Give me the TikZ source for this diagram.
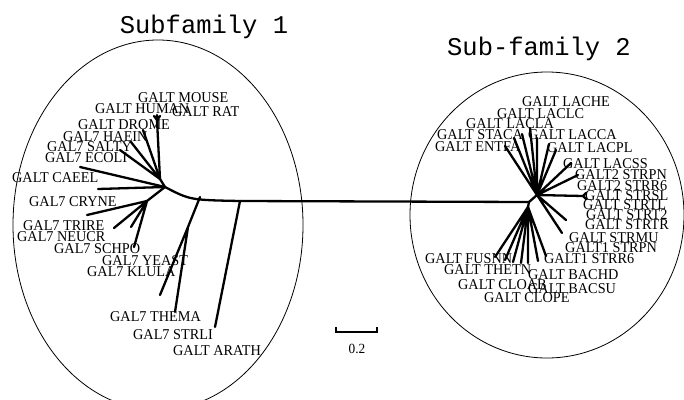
\documentclass[tikz,border=0pt]{standalone}
\usepackage{fontspec}
\setmainfont{Liberation Serif}
\setmonofont{Liberation Mono}
\newfontfamily\taxfont[FakeStretch=0.95]{Liberation Serif}
\tikzset{
  branch/.style={line width=2.3pt, line cap=round, line join=round},
  taxon/.style={anchor=west, inner sep=0pt, font=\taxfont\fontsize{15}{15}\selectfont},
  famring/.style={line width=0.8pt},
  famtitle/.style={anchor=base, inner sep=0pt, font=\ttfamily\fontsize{25.5}{26}\selectfont},
}
\begin{document}
\begin{tikzpicture}[x=1pt,y=-1pt]
    \useasboundingbox (0,0) rectangle (684,399);
    %% rings and titles
    \draw[famring] (158,225) ellipse (145pt and 185pt);
    \draw[famring] (547,215) ellipse (137pt and 143pt);
    \node[famtitle] (fam1) at (204,33) {Subfamily 1};
    \node[famtitle] (fam2) at (539,55) {Sub-family 2};
    %% junctions
    \coordinate (lj) at (165,187);
    \coordinate (lbend) at (200,197);
    \coordinate (lbase) at (240,201);
    \coordinate (rj) at (529,202);
    \coordinate (ltop) at (160,179);
    \coordinate (lfan) at (147,201);
    \coordinate (lsplit) at (188,227);
    \coordinate (lmam) at (157,120);
    \coordinate (ru) at (537,195);
    \coordinate (rl) at (528,207);
    \coordinate (rsl) at (583,196);
    %% long branch between the two subfamilies
    \draw[branch] (lj) .. controls (190,200) .. (lbase) -- (rj);
    %% subfamily 1, upper part
    \draw[branch] (lj) -- (ltop) -- (lmam);
    \draw[branch] (lmam) -- (154,116) (lmam) -- (157,115) (lmam) -- (160,116);
    \draw[branch] (ltop) -- (143,130) (ltop) -- (131,142) (ltop) -- (120,150);
    \draw[branch] (lj) -- (80,167) (lj) -- (98,189);
    %% subfamily 1, lower part
    \draw[branch] (lj) -- (lfan);
    \draw[branch] (lfan) -- (87,215) (lfan) -- (114,228) (lfan) -- (131,227) (lfan) -- (134,247);
    \draw[branch] (lbend) -- (lsplit) -- (160,295) (lsplit) -- (175,312);
    \draw[branch] (lbase) -- (215,327);
    %% subfamily 2, upper part
    \draw[branch] (rj) -- (ru);
    \draw[branch] (ru) -- (505,146) (ru) -- (514,138) (ru) -- (522,134) (ru) -- (530,128);
    \draw[branch] (ru) -- (537,138) (ru) -- (549,144) (ru) -- (556,150);
    \draw[branch] (ru) -- (571,163) (ru) -- (578,175) (ru) -- (rsl);
    \draw[branch] (rsl) -- (586,193) (rsl) -- (586,199);
    \draw[branch] (ru) -- (566,220) (ru) -- (562,233);
    %% subfamily 2, lower part
    \draw[branch] (rj) -- (rl);
    \draw[branch] (rl) -- (495,257) (rl) -- (505,260) (rl) -- (513,262) (rl) -- (521,263);
    \draw[branch] (rl) -- (528,263) (rl) -- (538,261) (rl) -- (546,256);
    %% scale bar
    \coordinate (sbl) at (336,332);
    \coordinate (sbr) at (377,332);
    \draw[line width=1.5pt] (336,327) -- (sbl) -- (sbr) -- (377,327);
    \node[inner sep=0pt, font=\taxfont\fontsize{14}{14}\selectfont] (sblab) at (357,349) {0.2};
    %% labels, subfamily 1
    \node[taxon] (mouse) at (138,98) {GALT MOUSE};
    \node[taxon] (human) at (95,109) {GALT HUMAN};
    \node[taxon] (rat) at (172,112) {GALT RAT};
    \node[taxon] (drome) at (78,125) {GALT DROME};
    \node[taxon] (haein) at (63,137) {GAL7 HAEIN};
    \node[taxon] (salty) at (47,147) {GAL7 SALTY};
    \node[taxon] (ecoli) at (45,158) {GAL7 ECOLI};
    \node[taxon] (caeel) at (12,178) {GALT CAEEL};
    \node[taxon] (cryne) at (29,202) {GAL7 CRYNE};
    \node[taxon] (trire) at (23,226) {GAL7 TRIRE};
    \node[taxon] (neucr) at (17,237) {GAL7 NEUCR};
    \node[taxon] (schpo) at (54,249) {GAL7 SCHPO};
    \node[taxon] (yeast) at (102,261) {GAL7 YEAST};
    \node[taxon] (klula) at (87,272) {GAL7 KLULA};
    \node[taxon] (thema) at (110,317) {GAL7 THEMA};
    \node[taxon] (strli) at (133,335) {GAL7 STRLI};
    \node[taxon] (arath) at (173,351) {GALT ARATH};
    %% labels, subfamily 2
    \node[taxon] (lache) at (522,102) {GALT LACHE};
    \node[taxon] (laclc) at (497,114) {GALT LACLC};
    \node[taxon] (lacla) at (466,124) {GALT LACLA};
    \node[taxon] (staca) at (437,135) {GALT STACA};
    \node[taxon] (lacca) at (528,135) {GALT LACCA};
    \node[taxon] (entfa) at (435,147) {GALT ENTFA};
    \node[taxon] (lacpl) at (547,148) {GALT LACPL};
    \node[taxon] (lacss) at (563,164) {GALT LACSS};
    \node[taxon] (strpnb) at (575,175) {GALT2 STRPN};
    \node[taxon] (strrb) at (577,186) {GALT2 STRR6};
    \node[taxon] (strsl) at (585,196) {GALT STRSL};
    \node[taxon] (strtl) at (583,205) {GALT STRTL};
    \node[taxon] (strtb) at (586,215) {GALT STRT2};
    \node[taxon] (strtr) at (585,225) {GALT STRTR};
    \node[taxon] (strmu) at (569,238) {GALT STRMU};
    \node[taxon] (strpna) at (565,248) {GALT1 STRPN};
    \node[taxon] (strra) at (544,259) {GALT1 STRR6};
    \node[taxon] (fusnn) at (425,259) {GALT FUSNN};
    \node[taxon] (thetn) at (444,270) {GALT THETN};
    \node[taxon] (bachd) at (528,275) {GALT BACHD};
    \node[taxon] (cloab) at (458,285) {GALT CLOAB};
    \node[taxon] (bacsu) at (528,289) {GALT BACSU};
    \node[taxon] (clope) at (484,298) {GALT CLOPE};
\end{tikzpicture}
\end{document}
